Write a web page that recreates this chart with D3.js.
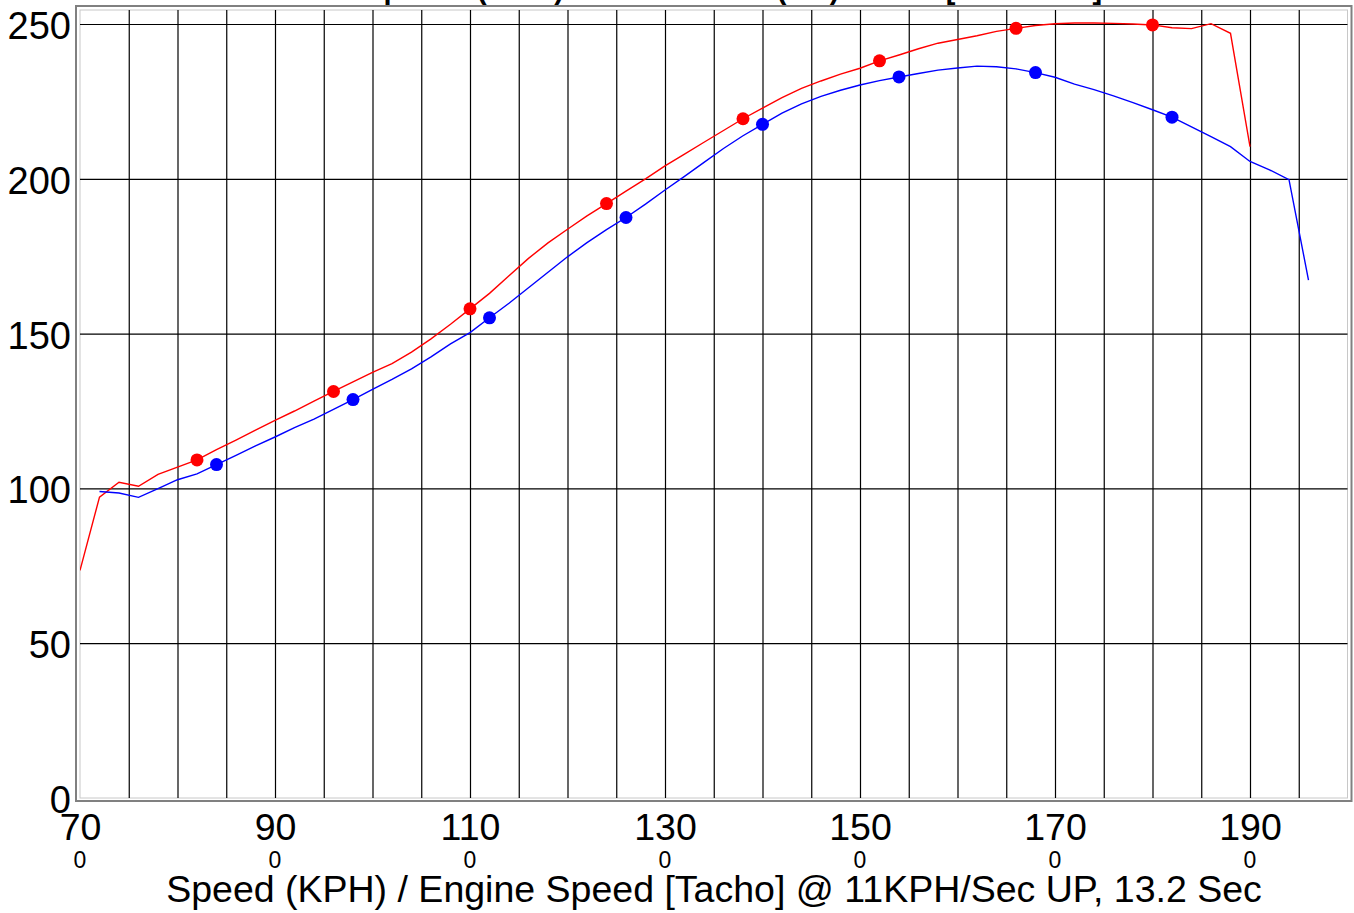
<!DOCTYPE html>
<html>
<head>
<meta charset="utf-8">
<script src="https://cdn.jsdelivr.net/npm/d3@7"></script>
<style>
  body { margin: 0; background: #fff; }
  svg { display: block; font-family: "Liberation Sans", Arial, sans-serif; }
</style>
</head>
<body>
<div id="chart"></div>
<script>
// speed (kph) sampled every 2 kph
const redSpeed = [70, 72, 74, 76, 78, 80, 82, 84, 86, 88, 90, 92, 94, 96, 98, 100, 102, 104, 106, 108,
  110, 112, 114, 116, 118, 120, 122, 124, 126, 128, 130, 132, 134, 136, 138, 140, 142, 144, 146, 148,
  150, 152, 154, 156, 158, 160, 162, 164, 166, 168, 170, 172, 174, 176, 178, 180, 182, 184, 186, 188, 190];
const redValues = [73.5, 97.2, 102.0, 100.7, 104.5, 106.9, 109.2, 112.5, 115.6, 118.8, 122.0, 125.0, 128.2, 131.3, 134.4, 137.5, 140.3, 144.0, 148.3, 153.0,
  158.0, 163.0, 168.7, 174.3, 179.3, 183.7, 188.0, 192.0, 196.0, 200.0, 204.2, 208.0, 211.8, 215.6, 219.4, 222.8, 226.2, 229.2, 231.6, 233.8,
  235.7, 238.1, 240.0, 242.0, 243.8, 245.0, 246.2, 247.6, 248.6, 249.5, 250.1, 250.3, 250.3, 250.2, 250.0, 249.7, 248.8, 248.5, 250.1, 247.0, 210.4];

const blueSpeed = [72, 74, 76, 78, 80, 82, 84, 86, 88, 90, 92, 94, 96, 98, 100, 102, 104, 106, 108,
  110, 112, 114, 116, 118, 120, 122, 124, 126, 128, 130, 132, 134, 136, 138, 140, 142, 144, 146, 148,
  150, 152, 154, 156, 158, 160, 162, 164, 166, 168, 170, 172, 174, 176, 178, 180, 182, 184, 186, 188,
  190, 192, 194, 196];
const blueValues = [99.0, 98.5, 97.1, 99.9, 102.8, 104.7, 107.7, 110.7, 113.7, 116.6, 119.6, 122.4, 125.5, 128.7, 132.0, 135.2, 138.6, 142.5, 146.7,
  150.3, 155.1, 159.8, 164.8, 169.8, 174.8, 179.4, 183.6, 187.5, 191.8, 196.4, 200.8, 205.3, 209.8, 213.9, 217.6, 221.2, 224.2, 226.6, 228.6,
  230.3, 231.7, 232.9, 234.0, 235.1, 235.8, 236.4, 236.2, 235.5, 234.3, 232.8, 230.6, 228.8, 226.8, 224.6, 222.3, 219.9, 216.8, 213.6, 210.4,
  205.6, 202.9, 199.7, 167.3];

// speeds that carry a dot marker
const redMarkers = [82, 96, 110, 124, 138, 152, 166, 180];
const blueMarkers = [84, 98, 112, 126, 140, 154, 168, 182];

const xTicks = [70, 90, 110, 130, 150, 170, 190];
const tachoLabels = ["0", "0", "0", "0", "0", "0", "0"];
const yTicks = [0, 50, 100, 150, 200, 250];
const xTitle = "Speed (KPH) / Engine Speed [Tacho] @ 11KPH/Sec UP, 13.2 Sec";
const chartTitle = "Wheel Horsepower (WHP) / Wheel Power (kW) at Hub [Corrected]";

const width = 1354;
const height = 913;
const plotLeft = 80, plotRight = 1347.5, plotTop = 10, plotBottom = 798;

const svg = d3.select("#chart").append("svg")
  .attr("width", width)
  .attr("height", height);

const x = d3.scaleLinear().domain([70, 200]).range([plotLeft, plotRight]);
const y = d3.scaleLinear().domain([0, 250]).range([plotBottom, 24]);

// title, mostly cut off by the top of the picture
svg.append("text")
  .attr("x", 655)
  .attr("y", -1)
  .attr("text-anchor", "middle")
  .style("font-size", "29px")
  .style("font-weight", "bold")
  .text(chartTitle);

// frame
svg.append("rect")
  .attr("x", plotLeft - 4).attr("y", plotTop - 4)
  .attr("width", plotRight - plotLeft + 8).attr("height", plotBottom - plotTop + 7)
  .attr("fill", "none").attr("stroke", "#808080").attr("stroke-width", 2);
svg.append("rect")
  .attr("x", plotLeft).attr("y", plotTop)
  .attr("width", plotRight - plotLeft).attr("height", plotBottom - plotTop)
  .attr("fill", "none").attr("stroke", "#c8c8c8").attr("stroke-width", 1);

// vertical grid every 5 kph
const xGrid = svg.append("g")
  .attr("transform", `translate(0,${plotBottom})`)
  .call(d3.axisBottom(x).tickValues(d3.range(75, 200, 5)).tickSize(-(plotBottom - plotTop)).tickFormat(""));
xGrid.select(".domain").remove();
xGrid.selectAll("line").attr("stroke", "#000").attr("stroke-width", 1.2);

// y axis with horizontal grid
const yAxis = svg.append("g")
  .attr("transform", `translate(${plotLeft},0)`)
  .call(d3.axisLeft(y).tickValues(yTicks).tickSize(-(plotRight - plotLeft)).tickPadding(9));
yAxis.select(".domain").remove();
yAxis.selectAll("line")
  .attr("stroke", d => d === 0 ? "none" : "#000")
  .attr("stroke-width", 1.2);
yAxis.selectAll("text")
  .attr("fill", "#000")
  .style("font-family", "Liberation Sans, Arial, sans-serif")
  .style("font-size", "38px")
  .attr("dy", "0.38em");

// x tick labels: speed and tacho rows
const xAxis = svg.append("g")
  .attr("transform", `translate(0,${plotBottom})`)
  .call(d3.axisBottom(x).tickValues(xTicks).tickSize(0).tickPadding(0));
xAxis.select(".domain").remove();
xAxis.selectAll("text")
  .attr("fill", "#000")
  .attr("y", 42)
  .attr("dy", 0)
  .style("font-family", "Liberation Sans, Arial, sans-serif")
  .style("font-size", "37.5px");

svg.append("g").selectAll("text")
  .data(xTicks)
  .join("text")
  .attr("x", d => x(d))
  .attr("y", plotBottom + 70)
  .attr("text-anchor", "middle")
  .style("font-size", "23px")
  .text((d, i) => tachoLabels[i]);

svg.append("text")
  .attr("x", 714)
  .attr("y", 902)
  .attr("text-anchor", "middle")
  .style("font-size", "37.5px")
  .text(xTitle);

// curves
svg.append("clipPath").attr("id", "plotClip")
  .append("rect")
  .attr("x", plotLeft).attr("y", plotTop)
  .attr("width", plotRight - plotLeft).attr("height", plotBottom - plotTop);

const plot = svg.append("g").attr("clip-path", "url(#plotClip)");
const line = d3.line().x(d => x(d[0])).y(d => y(d[1]));

const series = [
  { speed: redSpeed, values: redValues, markers: redMarkers, color: "#ff0000" },
  { speed: blueSpeed, values: blueValues, markers: blueMarkers, color: "#0000ff" }
];

series.forEach(s => {
  const pts = s.speed.map((v, i) => [v, s.values[i]]);
  plot.append("path")
    .datum(pts)
    .attr("fill", "none")
    .attr("stroke", s.color)
    .attr("stroke-width", 1.4)
    .attr("d", line);
  plot.append("g").selectAll("circle")
    .data(pts.filter(p => s.markers.includes(p[0])))
    .join("circle")
    .attr("cx", d => x(d[0]))
    .attr("cy", d => y(d[1]))
    .attr("r", 6.5)
    .attr("fill", s.color);
});
</script>
</body>
</html>
